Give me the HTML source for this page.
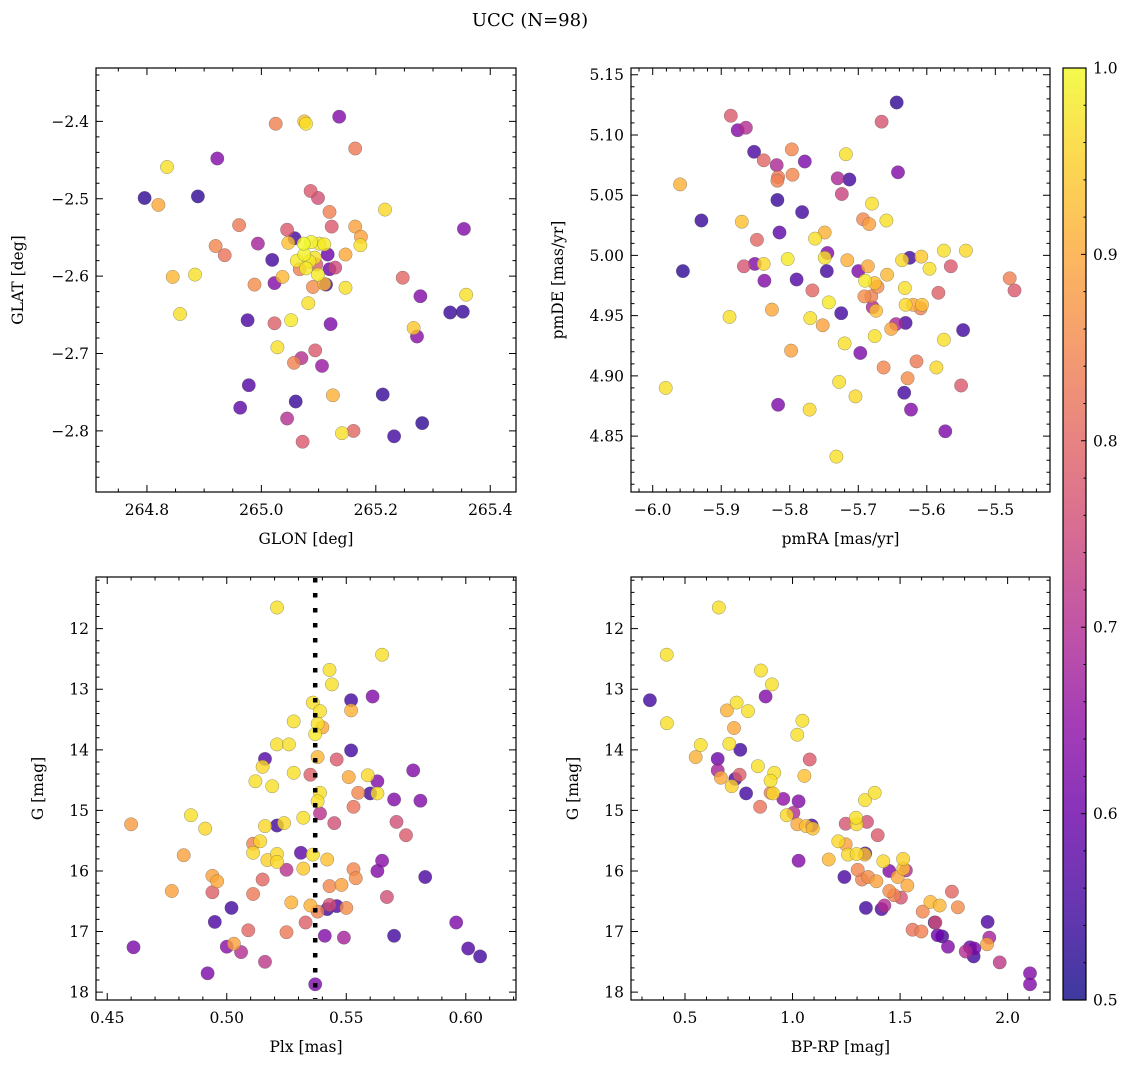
<!DOCTYPE html>
<html><head><meta charset="utf-8"><title>UCC (N=98)</title>
<style>
html,body{margin:0;padding:0;background:#fff;}
svg{display:block;font-family:"DejaVu Serif","Liberation Serif",serif;}
</style></head>
<body>
<svg id="fig" width="1136" height="1067" viewBox="0 0 1136 1067" xmlns="http://www.w3.org/2000/svg">
<defs>
<linearGradient id="plasmaGrad" x1="0" y1="1" x2="0" y2="0">
<stop offset="0" stop-color="#0d0887"/><stop offset="0.1" stop-color="#41049d"/><stop offset="0.2" stop-color="#6a00a8"/><stop offset="0.3" stop-color="#8f0da4"/><stop offset="0.4" stop-color="#b12a90"/><stop offset="0.5" stop-color="#cc4778"/><stop offset="0.6" stop-color="#e16462"/><stop offset="0.7" stop-color="#f2844b"/><stop offset="0.8" stop-color="#fca636"/><stop offset="0.9" stop-color="#fcce25"/><stop offset="1" stop-color="#f0f921"/>
</linearGradient>
</defs>
<text x="530" y="26" text-anchor="middle" font-size="18">UCC (N=98)</text>
</svg>
<script>
// ---- Panel 1: GLON / GLAT ----
const glon=[265.025,265.075,265.078,265.136,265.164,264.923,264.835,264.796,264.889,264.820,265.086,265.099,265.119,265.216,264.961,265.045,265.123,265.164,265.174,265.173,265.354,264.920,264.994,264.936,265.019,265.058,265.047,265.074,265.087,265.101,265.110,265.116,265.147,265.062,265.084,265.093,265.067,265.078,265.119,265.129,264.845,264.884,265.037,265.023,264.988,265.099,265.090,265.113,265.110,265.147,265.247,265.278,265.358,265.082,265.330,265.352,264.858,264.976,265.023,265.052,265.121,265.266,265.272,265.028,265.094,265.070,265.057,265.106,264.978,265.125,265.212,264.963,265.060,265.045,265.281,265.141,265.161,265.232,265.072,265.075,265.096];
const glat=[-2.403,-2.400,-2.403,-2.394,-2.435,-2.448,-2.459,-2.499,-2.497,-2.508,-2.490,-2.499,-2.517,-2.514,-2.534,-2.540,-2.536,-2.536,-2.549,-2.560,-2.539,-2.561,-2.558,-2.573,-2.579,-2.551,-2.557,-2.558,-2.556,-2.558,-2.559,-2.572,-2.572,-2.580,-2.581,-2.576,-2.591,-2.590,-2.591,-2.589,-2.601,-2.598,-2.601,-2.609,-2.611,-2.598,-2.614,-2.611,-2.610,-2.615,-2.602,-2.626,-2.624,-2.635,-2.647,-2.646,-2.649,-2.657,-2.661,-2.657,-2.662,-2.667,-2.678,-2.692,-2.696,-2.706,-2.712,-2.716,-2.741,-2.754,-2.753,-2.770,-2.762,-2.784,-2.790,-2.803,-2.800,-2.807,-2.814,-2.572,-2.585];
const prob1=[0.84,0.93,0.97,0.63,0.83,0.63,0.97,0.53,0.53,0.9,0.78,0.76,0.84,0.96,0.83,0.78,0.78,0.89,0.89,0.97,0.63,0.85,0.68,0.82,0.55,0.55,0.93,1.0,0.99,0.98,0.98,0.6,0.9,0.98,0.98,0.97,0.84,0.98,0.6,0.75,0.92,0.97,0.92,0.63,0.86,0.98,0.86,0.55,0.92,0.97,0.8,0.63,0.97,0.97,0.54,0.54,0.97,0.56,0.79,0.98,0.62,0.94,0.64,0.97,0.78,0.7,0.84,0.66,0.57,0.91,0.54,0.58,0.54,0.7,0.53,0.97,0.8,0.55,0.78,0.99,0.78];
const p1xTicks=[264.8,265.0,265.2,265.4];
const p1xLabels=["264.8","265.0","265.2","265.4"];
const p1yTicks=[-2.4,-2.5,-2.6,-2.7,-2.8];
const p1yLabels=["\u22122.4","\u22122.5","\u22122.6","\u22122.7","\u22122.8"];

// ---- Panel 2: pmRA / pmDE ----
const pmra=[-5.644,-5.886,-5.876,-5.864,-5.666,-5.852,-5.838,-5.819,-5.797,-5.778,-5.817,-5.818,-5.796,-5.718,-5.642,-5.730,-5.713,-5.724,-5.960,-5.818,-5.782,-5.929,-5.870,-5.680,-5.693,-5.684,-5.659,-5.815,-5.848,-5.763,-5.749,-5.745,-5.749,-5.867,-5.851,-5.838,-5.803,-5.956,-5.837,-5.790,-5.746,-5.716,-5.700,-5.686,-5.690,-5.676,-5.672,-5.658,-5.625,-5.636,-5.608,-5.575,-5.543,-5.596,-5.565,-5.632,-5.583,-5.767,-5.691,-5.681,-5.679,-5.674,-5.743,-5.631,-5.620,-5.609,-5.607,-5.826,-5.888,-5.770,-5.752,-5.725,-5.645,-5.631,-5.652,-5.676,-5.547,-5.575,-5.720,-5.697,-5.798,-5.663,-5.615,-5.586,-5.628,-5.550,-5.479,-5.472,-5.981,-5.728,-5.633,-5.704,-5.817,-5.771,-5.623,-5.573,-5.732];
const pmde=[5.127,5.116,5.104,5.106,5.111,5.086,5.079,5.075,5.088,5.078,5.065,5.062,5.067,5.084,5.069,5.064,5.063,5.051,5.059,5.046,5.036,5.029,5.028,5.043,5.030,5.026,5.029,5.019,5.013,5.014,5.019,5.002,4.998,4.991,4.993,4.993,4.997,4.987,4.979,4.980,4.987,4.996,4.987,4.991,4.979,4.977,4.974,4.984,4.998,4.996,4.999,5.004,5.004,4.989,4.991,4.973,4.969,4.971,4.966,4.966,4.957,4.954,4.961,4.959,4.959,4.956,4.959,4.955,4.949,4.948,4.942,4.952,4.943,4.944,4.939,4.933,4.938,4.930,4.927,4.919,4.921,4.907,4.912,4.907,4.898,4.892,4.981,4.971,4.890,4.895,4.886,4.883,4.876,4.872,4.872,4.854,4.833];
const prob2=[0.53,0.78,0.63,0.7,0.77,0.56,0.8,0.69,0.85,0.62,0.83,0.84,0.85,0.97,0.63,0.69,0.55,0.74,0.91,0.54,0.55,0.54,0.93,0.97,0.85,0.89,0.97,0.58,0.8,0.97,0.91,0.63,0.97,0.77,0.63,0.96,0.98,0.53,0.63,0.57,0.55,0.91,0.62,0.9,0.98,0.93,0.86,0.92,0.55,0.96,0.94,0.97,0.96,0.97,0.78,0.97,0.79,0.8,0.86,0.84,0.69,0.93,0.98,0.96,0.9,0.84,0.93,0.9,0.97,0.97,0.89,0.55,0.69,0.56,0.9,0.97,0.55,0.97,0.97,0.62,0.89,0.85,0.83,0.96,0.86,0.78,0.84,0.78,0.97,0.97,0.55,0.96,0.62,0.96,0.63,0.62,0.97];
const p2xTicks=[-6.0,-5.9,-5.8,-5.7,-5.6,-5.5];
const p2xLabels=["\u22126.0","\u22125.9","\u22125.8","\u22125.7","\u22125.6","\u22125.5"];
const p2yTicks=[5.15,5.10,5.05,5.00,4.95,4.90,4.85];
const p2yLabels=["5.15","5.10","5.05","5.00","4.95","4.90","4.85"];

// ---- Panel 3: Plx / G ----
const plx=[0.521,0.565,0.543,0.544,0.552,0.561,0.536,0.539,0.552,0.528,0.540,0.538,0.537,0.521,0.526,0.552,0.516,0.538,0.546,0.515,0.528,0.535,0.578,0.551,0.559,0.563,0.512,0.519,0.539,0.555,0.560,0.563,0.570,0.581,0.538,0.553,0.485,0.460,0.491,0.521,0.516,0.524,0.532,0.539,0.545,0.571,0.575,0.511,0.514,0.511,0.482,0.521,0.517,0.521,0.531,0.536,0.542,0.565,0.525,0.532,0.563,0.553,0.494,0.496,0.554,0.583,0.515,0.477,0.494,0.511,0.543,0.548,0.567,0.527,0.535,0.502,0.542,0.543,0.546,0.550,0.538,0.495,0.509,0.525,0.533,0.596,0.541,0.549,0.570,0.461,0.500,0.503,0.506,0.516,0.601,0.606,0.492,0.537];
const gmag3=[11.65,12.43,12.68,12.92,13.18,13.12,13.22,13.36,13.35,13.53,13.63,13.57,13.74,13.91,13.91,14.01,14.15,14.12,14.16,14.28,14.38,14.41,14.34,14.45,14.42,14.52,14.52,14.60,14.71,14.71,14.72,14.72,14.82,14.84,14.85,14.94,15.08,15.23,15.30,15.25,15.26,15.21,15.12,15.05,15.21,15.19,15.41,15.55,15.51,15.70,15.74,15.72,15.82,15.85,15.70,15.73,15.81,15.83,15.98,15.96,16.00,15.97,16.08,16.17,16.12,16.10,16.14,16.33,16.35,16.38,16.25,16.23,16.43,16.52,16.57,16.61,16.63,16.56,16.58,16.61,16.67,16.84,16.98,17.01,16.85,16.85,17.07,17.10,17.07,17.26,17.25,17.20,17.34,17.50,17.28,17.41,17.69,17.87];
const prob3=[0.97,0.97,0.97,0.97,0.55,0.63,0.97,0.97,0.91,0.97,0.9,0.97,0.98,0.97,0.97,0.55,0.57,0.92,0.78,0.96,0.97,0.79,0.63,0.9,0.96,0.63,0.97,0.97,0.97,0.85,0.55,0.97,0.63,0.63,0.97,0.82,0.97,0.88,0.96,0.55,0.96,0.96,0.97,0.71,0.76,0.76,0.78,0.84,0.96,0.96,0.89,0.96,0.95,0.96,0.58,0.97,0.93,0.64,0.71,0.94,0.63,0.85,0.89,0.9,0.86,0.56,0.8,0.89,0.79,0.83,0.85,0.89,0.76,0.91,0.91,0.55,0.55,0.76,0.57,0.86,0.84,0.56,0.8,0.83,0.79,0.62,0.63,0.68,0.55,0.62,0.64,0.89,0.7,0.72,0.57,0.55,0.62,0.62];
const plxMedian=[0.537];
const p3xTicks=[0.45,0.50,0.55,0.60];
const p3xLabels=["0.45","0.50","0.55","0.60"];
const gTicks=[12,13,14,15,16,17,18];
const gLabels=["12","13","14","15","16","17","18"];

// ---- Panel 4: BP-RP / G ----
const bprp=[0.657,0.415,0.337,0.416,0.853,0.904,0.875,0.740,0.695,0.793,0.728,1.046,1.022,0.573,0.550,0.706,0.757,0.652,0.652,0.667,0.734,0.754,0.717,0.784,0.839,0.915,0.898,1.080,1.055,0.898,0.909,0.957,1.028,0.849,1.004,0.973,1.022,1.089,1.063,1.094,1.028,1.337,1.382,1.247,1.295,1.298,1.346,1.396,1.213,1.247,1.258,1.298,1.338,1.335,1.168,1.241,1.303,1.323,1.352,1.390,1.422,1.450,1.514,1.527,1.515,1.489,1.534,1.504,1.450,1.472,1.341,1.414,1.427,1.605,1.641,1.684,1.741,1.769,1.664,1.558,1.599,1.675,1.696,1.723,1.805,1.825,1.842,1.907,1.915,1.904,1.963,2.104,2.104,1.661,1.845];
const gmag4=[11.65,12.43,13.18,13.56,12.69,12.92,13.12,13.22,13.35,13.36,13.64,13.52,13.75,13.92,14.12,13.90,14.00,14.15,14.34,14.46,14.48,14.41,14.60,14.72,14.27,14.38,14.51,14.16,14.43,14.71,14.72,14.81,14.85,14.94,15.04,15.08,15.23,15.25,15.26,15.30,15.83,14.83,14.71,15.22,15.12,15.23,15.19,15.41,15.51,15.56,15.73,15.72,15.71,15.73,15.81,16.10,15.98,16.14,16.10,16.17,15.84,16.00,15.80,15.99,15.96,16.10,16.24,16.44,16.33,16.40,16.61,16.63,16.57,16.67,16.51,16.57,16.34,16.60,16.85,16.97,17.00,17.06,17.08,17.25,17.33,17.26,17.41,16.84,17.10,17.21,17.51,17.69,17.87,16.85,17.28];
const prob4=[0.97,0.97,0.55,0.97,0.97,0.97,0.63,0.97,0.91,0.97,0.9,0.97,0.97,0.97,0.91,0.97,0.55,0.6,0.68,0.9,0.56,0.79,0.95,0.55,0.97,0.97,0.97,0.78,0.93,0.84,0.96,0.65,0.63,0.82,0.7,0.96,0.9,0.56,0.93,0.93,0.63,0.97,0.97,0.77,0.97,0.96,0.76,0.78,0.96,0.89,0.96,0.96,0.56,0.93,0.92,0.56,0.85,0.84,0.86,0.89,0.96,0.63,0.95,0.7,0.93,0.9,0.9,0.77,0.86,0.84,0.55,0.57,0.7,0.85,0.92,0.92,0.8,0.86,0.76,0.82,0.84,0.6,0.56,0.63,0.7,0.6,0.55,0.56,0.68,0.89,0.72,0.63,0.63,0.55,0.62];
const p4xTicks=[0.5,1.0,1.5,2.0];
const p4xLabels=["0.5","1.0","1.5","2.0"];

// ---- Colorbar ----
const cbTicks=[0.5,0.6,0.7,0.8,0.9,1.0];
const cbLabels=["0.5","0.6","0.7","0.8","0.9","1.0"];

const NS="http://www.w3.org/2000/svg";
const svg=document.getElementById('fig');
const STOPS=[[13,8,135],[65,4,157],[106,0,168],[143,13,164],[177,42,144],[204,71,120],[225,100,98],[242,132,75],[252,166,54],[252,206,37],[240,249,33]];
function plasma(p){
  let t=Math.max(0,Math.min(1,(p-0.5)/0.5))*10;
  const i=Math.min(9,Math.floor(t)), f=t-i;
  const a=STOPS[i], b=STOPS[i+1];
  return 'rgb('+a.map((v,k)=>Math.round(v+(b[k]-v)*f)).join(',')+')';
}
function mk(tag,attrs,parent){
  const e=document.createElementNS(NS,tag);
  for(const k in attrs) e.setAttribute(k,attrs[k]);
  (parent||svg).appendChild(e);
  return e;
}
function linScale(d0,d1,r0,r1){return v=>r0+(v-d0)/(d1-d0)*(r1-r0);}
const FS=15.5;

function panel(o){
  const g=mk('g',{});
  
  
  const sx=linScale(o.xd[0],o.xd[1],o.x0,o.x1);
  const sy=linScale(o.yd[0],o.yd[1],o.y0,o.y1);
  const idx=o.xs.map((_,i)=>i).sort((a,b)=>o.ps[a]-o.ps[b]);
  const pg=mk('g',{},g);
  
  
  idx.forEach(i=>{
    const c=mk('circle',{cx:sx(o.xs[i]).toFixed(1),cy:sy(o.ys[i]).toFixed(1),r:6.7,fill:plasma(o.ps[i]),'fill-opacity':0.8,stroke:'#555','stroke-opacity':0.6,'stroke-width':0.5},pg);
    
    
  });
  if(o.vline){
    const l=mk('line',{x1:sx(o.vline[0]),x2:sx(o.vline[0]),y1:o.y0+1,y2:o.y1-1,stroke:'#000','stroke-width':4.5,'stroke-dasharray':'4.5 10.5'},g);
    
    
  }
  const fr=mk('rect',{x:o.x0,y:Math.min(o.y0,o.y1),width:o.x1-o.x0,height:Math.abs(o.y1-o.y0),fill:'none',stroke:'#000','stroke-width':1.2},g);
  
  
  const top=Math.min(o.y0,o.y1), bot=Math.max(o.y0,o.y1);
  const xlo=Math.min(o.xd[0],o.xd[1]), xhi=Math.max(o.xd[0],o.xd[1]);
  const ylo=Math.min(o.yd[0],o.yd[1]), yhi=Math.max(o.yd[0],o.yd[1]);
  let d='';
  for(let k=Math.ceil(xlo/o.xminor-1e-6);k*o.xminor<=xhi+1e-9;k++){
    const X=sx(k*o.xminor);
    d+=`M${X},${bot}v-3.5M${X},${top}v3.5`;
  }
  for(let k=Math.ceil(ylo/o.yminor-1e-6);k*o.yminor<=yhi+1e-9;k++){
    const Y=sy(k*o.yminor);
    d+=`M${o.x0},${Y}h3.5M${o.x1},${Y}h-3.5`;
  }
  o.xt.forEach(v=>{const X=sx(v);d+=`M${X},${bot}v-7M${X},${top}v7`;});
  o.yt.forEach(v=>{const Y=sy(v);d+=`M${o.x0},${Y}h7M${o.x1},${Y}h-7`;});
  const tk=mk('path',{d:d,stroke:'#000','stroke-width':1,fill:'none'},g);
  
  
  o.xt.forEach((v,i)=>{
    const t=mk('text',{x:sx(v),y:bot+23,'text-anchor':'middle','font-size':FS},g);
    t.textContent=o.xl[i];
    
    
  });
  o.yt.forEach((v,i)=>{
    const t=mk('text',{x:o.x0-7,y:sy(v)+5.5,'text-anchor':'end','font-size':FS},g);
    t.textContent=o.yl[i];
    
    
  });
  const xt=mk('text',{x:(o.x0+o.x1)/2,y:bot+52,'text-anchor':'middle','font-size':FS},g);
  xt.textContent=o.xtitle;
  
  
  const yc=(top+bot)/2;
  const yt=mk('text',{x:o.ytx,y:yc,'text-anchor':'middle','font-size':FS,transform:`rotate(-90 ${o.ytx} ${yc})`},g);
  yt.textContent=o.ytitle;
  
  
}

panel({name:'glon-glat-panel',xs:glon,ys:glat,ps:prob1,x0:96,x1:516,y0:492,y1:68,xd:[264.711,265.445],yd:[-2.879,-2.331],
  xt:p1xTicks,xl:p1xLabels,yt:p1yTicks,yl:p1yLabels,xminor:0.05,yminor:0.02,xtitle:'GLON [deg]',ytitle:'GLAT [deg]',ytx:23});
panel({name:'pm-panel',xs:pmra,ys:pmde,ps:prob2,x0:631,x1:1050,y0:492,y1:68,xd:[-6.0317,-5.4202],yd:[4.8036,5.1556],
  xt:p2xTicks,xl:p2xLabels,yt:p2yTicks,yl:p2yLabels,xminor:0.02,yminor:0.01,xtitle:'pmRA [mas/yr]',ytitle:'pmDE [mas/yr]',ytx:563});
panel({name:'plx-g-panel',xs:plx,ys:gmag3,ps:prob3,x0:96,x1:516,y0:577,y1:1000,xd:[0.4453,0.6210],yd:[11.147,18.130],
  xt:p3xTicks,xl:p3xLabels,yt:gTicks,yl:gLabels,xminor:0.01,yminor:0.2,xtitle:'Plx [mas]',ytitle:'G [mag]',ytx:43,vline:plxMedian});
panel({name:'cmd-panel',xs:bprp,ys:gmag4,ps:prob4,x0:631,x1:1050,y0:577,y1:1000,xd:[0.249,2.197],yd:[11.147,18.130],
  xt:p4xTicks,xl:p4xLabels,yt:gTicks,yl:gLabels,xminor:0.1,yminor:0.2,xtitle:'BP-RP [mag]',ytitle:'G [mag]',ytx:578});

(function(){
  const g=mk('g',{});
  
  
  const r=mk('rect',{x:1063,y:68,width:23,height:932,fill:'url(#plasmaGrad)','fill-opacity':0.8,stroke:'#000','stroke-width':1.2},g);
  
  
  const sc=linScale(0.5,1.0,1000,68);
  let d='';
  for(let k=25;k<=50;k++){const Y=sc(k*0.02);d+=`M1086,${Y}h-2.5`;}
  cbTicks.forEach(v=>{d+=`M1086,${sc(v)}h-5`;});
  const p=mk('path',{d:d,stroke:'#000','stroke-width':1},g);
  
  
  cbTicks.forEach((v,i)=>{
    const t=mk('text',{x:1093,y:sc(v)+5.5,'font-size':FS},g);
    t.textContent=cbLabels[i];
    
    
  });
})();
</script>
</body></html>
